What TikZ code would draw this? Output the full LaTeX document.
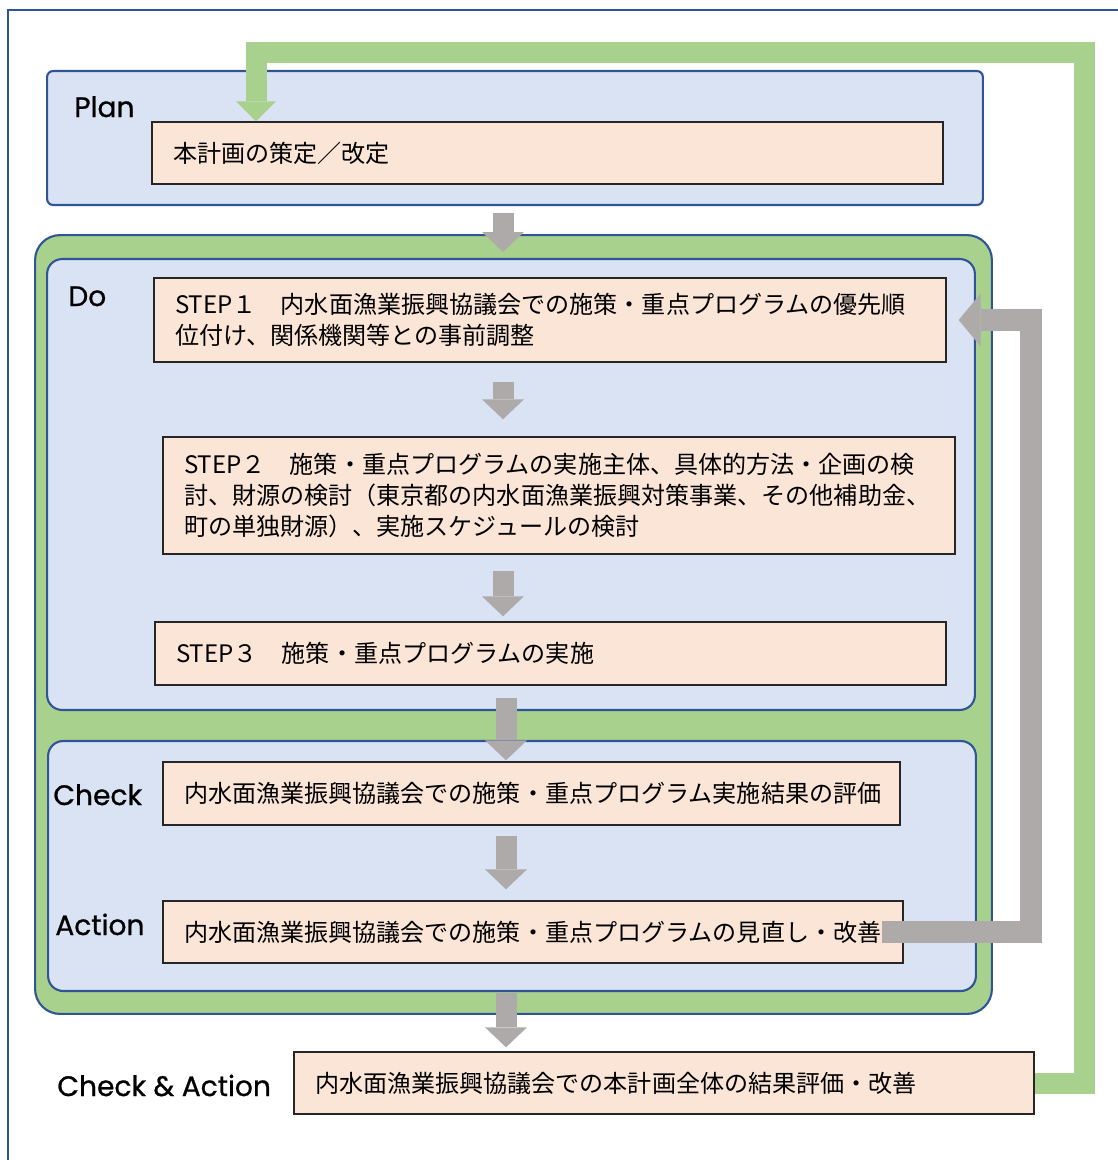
\documentclass[tikz,border=0pt]{standalone}
\usepackage{fontspec}
\setmainfont{Noto Sans CJK JP}
\newfontfamily\tagfont[FakeBold=0.8]{Poppins}
\usetikzlibrary{arrows.meta}
\definecolor{panelblue}{HTML}{DAE3F3}
\definecolor{edgeblue}{HTML}{2F5597}
\definecolor{loopgreen}{HTML}{A9D18E}
\definecolor{taskpeach}{HTML}{FBE5D6}
\definecolor{arrowgray}{HTML}{AEAAAA}

\begin{document}
\begin{tikzpicture}[
  x=0.02cm, y=-0.02cm,
  panel/.style={rectangle, draw=edgeblue, line width=1.2pt, fill=panelblue, inner sep=0pt},
  task/.style={rectangle, draw=black!85, line width=0.8pt, fill=taskpeach, align=left,
               font=\fontsize{13.7}{17.6}\selectfont, inner xsep=0.42cm, inner ysep=0pt},
  tag/.style={font=\tagfont\fontsize{16}{19}\selectfont, inner sep=0pt, anchor=base west},
  garr/.style={draw=arrowgray, line width=0.42cm,
               -{Triangle[length=0.4cm, width=0.84cm, line width=0pt]}},
  greenback/.style={draw=loopgreen, line width=0.42cm,
                    -{Triangle[length=0.4cm, width=0.8cm, line width=0pt]}},
  grayback/.style={draw=arrowgray, line width=0.44cm,
                   -{Triangle[length=0.44cm, width=1.06cm, line width=0pt]}}
]
\useasboundingbox (0,0) rectangle (1118,1160);
\draw[edgeblue, line width=1.2pt] (8,1200) -- (8,10) -- (1160,10);

% panels
\node[panel, fill=loopgreen, rounded corners=0.5cm, minimum width=19.14cm, minimum height=15.58cm]
  (dogroup) at (513.5,624.5) {};
\node[panel, rounded corners=0.3cm, minimum width=18.56cm, minimum height=9.02cm] (do) at (511,484.5) {};
\node[panel, rounded corners=0.3cm, minimum width=18.56cm, minimum height=5.0cm] (ca) at (512,866) {};
\node[panel, rounded corners=0.12cm, minimum width=18.72cm, minimum height=2.68cm] (plan) at (515,138) {};

% tasks
\node[task, text width=14.98cm, minimum height=1.24cm] (plantask) at (547.5,153)
  {本計画の策定／改定};
\node[task, text width=15.0cm, minimum height=1.68cm] (step1) at (550,320)
  {STEP１　内水面漁業振興協議会での施策・重点プログラムの優先順\\
   位付け、関係機関等との事前調整};
\node[task, text width=15.0cm, minimum height=2.34cm] (step2) at (559,495.5)
  {STEP２　施策・重点プログラムの実施主体、具体的方法・企画の検\\
   討、財源の検討（東京都の内水面漁業振興対策事業、その他補助金、\\
   町の単独財源）、実施スケジュールの検討};
\node[task, text width=14.98cm, minimum height=1.26cm] (step3) at (550.5,653.5)
  {STEP３　施策・重点プログラムの実施};
\node[task, text width=13.9cm, minimum height=1.26cm] (check) at (531.5,793.5)
  {内水面漁業振興協議会での施策・重点プログラム実施結果の評価};
\node[task, text width=13.96cm, minimum height=1.24cm] (action) at (533,932)
  {内水面漁業振興協議会での施策・重点プログラムの見直し・改善};
\node[task, text width=13.96cm, minimum height=1.24cm] (final) at (664,1083)
  {内水面漁業振興協議会での本計画全体の結果評価・改善};

% labels
\node[tag] (plantag) at (74,117) {Plan};
\node[tag] (dotag) at (68,306) {Do};
\node[tag] (checktag) at (53,805) {Check};
\node[tag] (actiontag) at (55,935) {Action};
\node[tag] (finaltag) at (57,1096) {Check \& Action};

% flow arrows
\coordinate (ax1) at (503,0);
\coordinate (ax2) at (506,0);
\draw[garr, shorten <=0.14cm, shorten >=0.12cm] (plan.south -| ax1) -- (do.north -| ax1);
\draw[garr, shorten <=0.38cm, shorten >=0.34cm] (step1.south -| ax1) -- (step2.north -| ax1);
\draw[garr, shorten <=0.32cm, shorten >=0.1cm] (step2.south -| ax1) -- (step3.north -| ax1);
\draw[garr, shorten <=0.24cm, shorten >=0.02cm] (step3.south -| ax2) -- (check.north -| ax2);
\draw[garr, shorten <=0.2cm, shorten >=0.22cm] (check.south -| ax2) -- (action.north -| ax2);
\draw[garr, shorten <=0.58cm, shorten >=0.08cm] (action.south -| ax2) -- (final.north -| ax2);

% feedback loops
\coordinate (gturn) at (1031,320);
\draw[grayback] ([xshift=-0.44cm]action.east) -| (gturn) -- ([xshift=0.24cm]step1.east);
\coordinate (gcorner) at (1084,52);
\coordinate (gdrop) at (256,52);
\draw[greenback] (final.east) -| (gcorner) -- (gdrop) -- (plantask.north -| gdrop);
\end{tikzpicture}
\end{document}
